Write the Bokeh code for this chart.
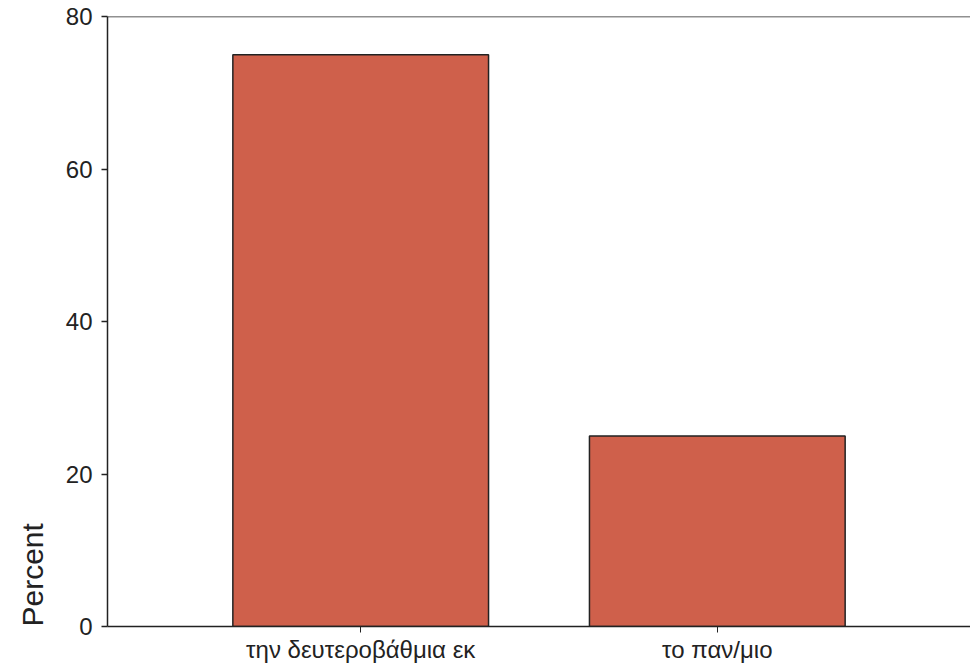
from bokeh.plotting import figure
from bokeh.models import FactorRange, FixedTicker, Span, Title, ColumnDataSource
from bokeh.embed import file_html
from bokeh.resources import INLINE

categories = ["την δευτεροβάθμια εκ", "το παν/μιο"]
percent = [75, 25]
y_ticks = [0, 20, 40, 60, 80]
y_start, y_end = 0, 80

src = ColumnDataSource(dict(cat=categories, val=percent))

p = figure(width=970, height=668, output_backend="svg", toolbar_location=None,
           x_range=FactorRange(factors=categories, range_padding=0.21, range_padding_units="percent"),
           y_range=(y_start, y_end),
           min_border_left=107, min_border_top=16, min_border_right=0, min_border_bottom=42)
p.vbar(x="cat", top="val", source=src, width=0.717, fill_color="#cf604b",
       line_color="#222222", line_width=1.5)

p.outline_line_color = None
p.grid.visible = False
p.background_fill_color = "white"
p.border_fill_color = "white"

font = "Liberation Sans"
ya = p.yaxis[0]
ya.ticker = FixedTicker(ticks=y_ticks)
ya.minor_tick_line_color = None
ya.major_tick_out = 6
ya.major_tick_in = 0
ya.axis_line_color = "#222222"
ya.axis_line_width = 1.5
ya.major_tick_line_color = "#222222"
ya.major_tick_line_width = 1.5
ya.major_label_text_font = font
ya.major_label_text_font_size = "24px"
ya.major_label_text_color = "#222222"
ya.major_label_standoff = 9

xa = p.xaxis[0]
xa.axis_line_color = "#222222"
xa.axis_line_width = 1.5
xa.major_tick_out = 6
xa.major_tick_in = 0
xa.major_tick_line_color = "#222222"
xa.major_label_text_font = font
xa.major_label_text_font_size = "24px"
xa.major_label_text_color = "#222222"
xa.major_label_standoff = 3

p.add_layout(Span(location=y_end, dimension="width", line_color="#222222", line_width=1.5))

p.add_layout(Title(text="Percent", align="left", text_font=font, text_font_size="30px",
                   text_font_style="normal", text_color="#222222", offset=0, standoff=27), "left")

open("out.html", "w").write(file_html(p, INLINE))
